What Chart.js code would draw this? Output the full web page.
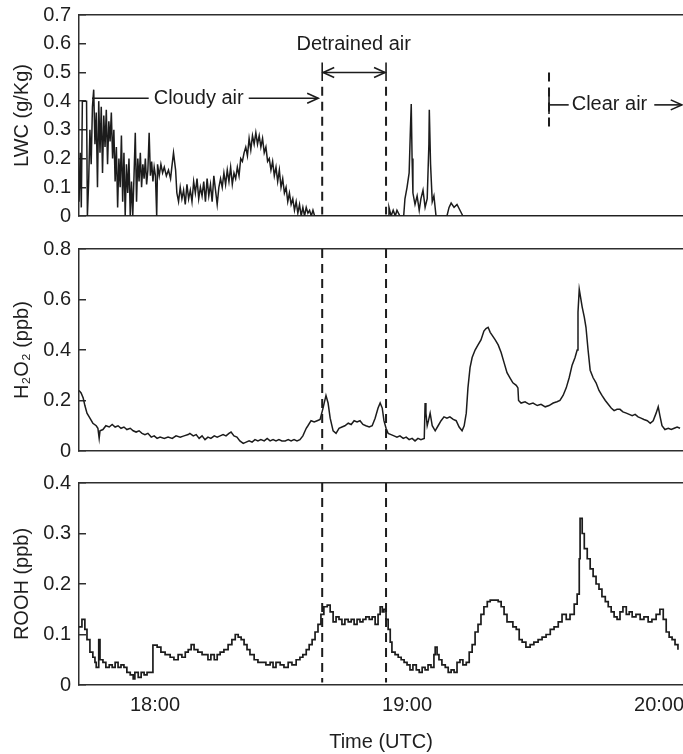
<!DOCTYPE html>
<html>
<head>
<meta charset="utf-8">
<script src="https://cdn.jsdelivr.net/npm/chart.js@4.4.1/dist/chart.umd.min.js"></script>
<style>
  html, body { margin: 0; padding: 0; background: #fff; }
  #wrap { position: relative; width: 683px; height: 754px; }
  #wrap canvas { position: absolute; left: 0; }
</style>
</head>
<body>
<div id="wrap">
  <canvas id="graficoLwc" width="683" height="232" style="top:0"></canvas>
  <canvas id="graficoH2o2" width="683" height="236" style="top:232px"></canvas>
  <canvas id="graficoRooh" width="683" height="286" style="top:468px"></canvas>
</div>
<script>
// time is in minutes after 17:00 UTC
const hourTicks = [60, 120, 180];
const timeMin = 41.9, timeMax = 185.7;

// liquid water content (g/Kg)
const lwcTime = [
  41.9, 42.2, 42.45, 42.7, 43.2, 43.7, 43.9, 44.2, 44.5, 44.8,
  45.1, 45.4, 45.7, 46.0, 46.3, 46.6, 46.9, 47.2, 47.5, 47.8,
  48.1, 48.4, 48.7, 49.0, 49.3, 49.6, 49.9, 50.2, 50.5, 50.8,
  51.1, 51.4, 51.7, 52.0, 52.3, 52.6, 52.9, 53.2, 53.5, 53.8,
  54.1, 54.4, 54.7, 55.0, 55.3, 55.6, 55.9, 56.2, 56.5, 56.8,
  57.1, 57.4, 57.7, 58.0, 58.3, 58.6, 58.9, 59.2, 59.5, 59.8,
  60.1, 60.4, 60.6, 61.0, 61.4, 61.8, 62.2, 62.7, 63.2, 63.7,
  64.0, 64.4, 64.9, 65.2, 65.6, 66.0, 66.4, 66.8, 67.2, 67.6,
  68.0, 68.4, 68.8, 69.2, 69.6, 70.0, 70.4, 70.8, 71.2, 71.6,
  72.0, 72.4, 72.8, 73.2, 73.6, 74.0, 74.4, 74.8, 75.2, 75.6,
  76.0, 76.4, 76.8, 77.2, 77.6, 78.0, 78.4, 78.8, 79.2, 79.6,
  80.0, 80.4, 80.8, 81.2, 81.6, 82.0, 82.4, 82.8, 83.2, 83.6,
  84.0, 84.4, 84.8, 85.2, 85.6, 86.0, 86.4, 86.8, 87.2, 87.6,
  88.0, 88.4, 88.8, 89.2, 89.6, 90.0, 90.4, 90.8, 91.2, 91.6,
  92.0, 92.4, 92.8, 93.2, 93.6, 94.0, 94.4, 94.8, 95.2, 95.6,
  96.0, 96.4, 96.8, 97.2, 97.6, 98.0, 115.5, 115.7, 116.2, 116.7,
  117.2, 117.6, 118.3, 119.2, 119.5, 120.0, 120.5, 120.8, 121.0, 121.2,
  121.4, 121.9, 122.4, 122.9, 123.3, 123.8, 124.3, 124.8, 125.2, 125.3,
  125.6, 126.0, 126.4, 126.9, 129.5, 130.0, 130.5, 131.2, 131.9, 132.6,
  133.3, 185.7
];
const lwcValue = [
  0.05, 0.22, 0.03, 0.40, 0.40, 0.40, 0.0, 0.12, 0.30, 0.18,
  0.38, 0.44, 0.25, 0.36, 0.10, 0.40, 0.22, 0.38, 0.15, 0.35,
  0.24, 0.37, 0.18, 0.33, 0.26, 0.36, 0.20, 0.30, 0.12, 0.24,
  0.03, 0.20, 0.10, 0.28, 0.05, 0.22, 0.0, 0.18, 0.08, 0.20,
  0.0, 0.12, 0.0, 0.14, 0.29, 0.05, 0.20, 0.12, 0.22, 0.10,
  0.18, 0.13, 0.20, 0.11, 0.16, 0.29, 0.14, 0.19, 0.12, 0.17,
  0.14, 0.0, 0.18, 0.14, 0.18, 0.15, 0.17, 0.14, 0.16, 0.13,
  0.17, 0.22, 0.16, 0.08, 0.05, 0.10, 0.06, 0.09, 0.04, 0.11,
  0.06, 0.09, 0.05, 0.12, 0.08, 0.13, 0.06, 0.10, 0.07, 0.12,
  0.05, 0.13, 0.07, 0.11, 0.05, 0.14, 0.09, 0.04, 0.10, 0.13,
  0.10, 0.15, 0.11, 0.16, 0.12, 0.17, 0.11, 0.15, 0.13, 0.17,
  0.14, 0.20, 0.19, 0.22, 0.24, 0.21, 0.27, 0.23, 0.28, 0.25,
  0.29, 0.25, 0.28, 0.24, 0.27, 0.22, 0.24, 0.19, 0.20, 0.16,
  0.19, 0.14, 0.17, 0.12, 0.16, 0.10, 0.13, 0.08, 0.10, 0.05,
  0.08, 0.04, 0.06, 0.02, 0.05, 0.01, 0.04, 0.0, 0.03, 0.0,
  0.03, 0.01, 0.02, 0.0, 0.02, 0.0, 0.0, 0.03, 0.0, 0.02,
  0.0, 0.02, 0.0, 0.0, 0.06, 0.10, 0.15, 0.30, 0.39, 0.20,
  0.08, 0.04, 0.07, 0.02, 0.06, 0.09, 0.03, 0.06, 0.25, 0.37,
  0.18, 0.05, 0.07, 0.0, 0.0, 0.03, 0.045, 0.03, 0.04, 0.02,
  0.0, 0.0
];

// H2O2 (ppb)
const h2o2Time = [
  41.9, 42.4, 42.9, 43.3, 43.8, 44.5, 45.2, 46.0, 46.4, 46.7,
  46.9, 47.6, 48.3, 49.1, 49.8, 50.5, 51.2, 51.9, 52.6, 53.3,
  54.1, 54.8, 55.5, 56.2, 56.9, 57.6, 58.3, 59.1, 59.8, 60.5,
  61.2, 62.2, 63.1, 64.1, 65.0, 66.0, 66.9, 67.9, 68.3, 69.1,
  69.8, 70.5, 71.2, 71.9, 72.6, 73.3, 74.1, 74.8, 75.5, 76.2,
  76.9, 77.6, 78.1, 78.8, 79.5, 80.2, 81.0, 81.7, 82.4, 83.1,
  83.8, 84.5, 85.2, 86.0, 86.7, 87.4, 88.1, 88.8, 89.5, 90.2,
  91.0, 91.7, 92.4, 93.1, 93.8, 94.5, 95.2, 96.0, 96.4, 97.15,
  97.9, 98.6, 99.3, 100.0, 100.7, 101.2, 101.7, 102.4, 103.1, 103.8,
  104.5, 105.2, 106.0, 106.7, 107.4, 108.1, 108.8, 109.5, 110.2, 111.0,
  111.7, 112.4, 113.1, 113.6, 114.1, 114.5, 115.0, 115.5, 116.2, 116.9,
  117.6, 118.3, 119.1, 119.8, 120.5, 121.2, 121.9, 122.6, 123.3, 124.1,
  124.3, 124.5, 124.8, 125.1, 125.5, 126.0, 126.7, 127.4, 128.1, 128.8,
  129.5, 130.2, 131.0, 131.7, 132.4, 133.1, 133.6, 134.1, 134.5, 135.0,
  135.5, 136.2, 136.9, 137.6, 138.3, 138.8, 139.3, 139.8, 140.2, 141.0,
  141.7, 142.4, 143.1, 143.8, 144.5, 145.2, 146.0, 146.4, 146.55, 147.15,
  148.1, 149.1, 150.0, 151.0, 151.9, 152.9, 153.8, 154.8, 155.7, 156.4,
  157.15, 157.9, 158.6, 159.3, 160.0, 160.5, 160.7, 161.0, 161.3, 161.7,
  162.2, 162.6, 163.1, 163.6, 164.3, 165.0, 165.7, 166.4, 167.2, 167.9,
  168.6, 169.3, 170.0, 170.7, 171.4, 172.2, 172.9, 173.6, 174.3, 175.0,
  175.7, 176.4, 177.2, 177.9, 178.6, 179.3, 179.8, 180.2, 180.7, 181.4,
  182.2, 182.9, 183.6, 184.3, 185.0
];
const h2o2Value = [
  0.24, 0.23, 0.21, 0.18, 0.15, 0.13, 0.11, 0.10, 0.09, 0.05,
  0.08, 0.085, 0.10, 0.095, 0.105, 0.095, 0.10, 0.09, 0.095, 0.085,
  0.09, 0.08, 0.075, 0.08, 0.07, 0.065, 0.07, 0.055, 0.06, 0.05,
  0.055, 0.05, 0.055, 0.05, 0.06, 0.055, 0.06, 0.065, 0.07, 0.06,
  0.065, 0.05, 0.06, 0.045, 0.055, 0.05, 0.06, 0.055, 0.06, 0.065,
  0.06, 0.07, 0.075, 0.06, 0.055, 0.04, 0.03, 0.035, 0.04, 0.035,
  0.045, 0.04, 0.045, 0.04, 0.05, 0.04, 0.045, 0.04, 0.045, 0.04,
  0.04, 0.045, 0.04, 0.045, 0.04, 0.045, 0.06, 0.09, 0.10, 0.12,
  0.115, 0.12, 0.125, 0.17, 0.22, 0.19, 0.13, 0.08, 0.07, 0.09,
  0.095, 0.10, 0.11, 0.105, 0.12, 0.115, 0.12, 0.105, 0.10, 0.095,
  0.10, 0.13, 0.17, 0.19, 0.17, 0.12, 0.09, 0.07, 0.065, 0.06,
  0.055, 0.06, 0.05, 0.055, 0.045, 0.05, 0.04, 0.05, 0.045, 0.05,
  0.19, 0.15, 0.10, 0.12, 0.15, 0.10, 0.08, 0.10, 0.12, 0.135,
  0.13, 0.135, 0.125, 0.12, 0.095, 0.08, 0.10, 0.15, 0.25, 0.33,
  0.37, 0.40, 0.42, 0.44, 0.475, 0.485, 0.49, 0.47, 0.46, 0.44,
  0.42, 0.39, 0.35, 0.31, 0.29, 0.27, 0.26, 0.25, 0.20, 0.19,
  0.195, 0.185, 0.19, 0.18, 0.185, 0.175, 0.18, 0.19, 0.195, 0.20,
  0.22, 0.25, 0.29, 0.34, 0.37, 0.40, 0.55, 0.64, 0.61, 0.57,
  0.53, 0.49, 0.40, 0.32, 0.29, 0.27, 0.24, 0.22, 0.20, 0.185,
  0.17, 0.16, 0.165, 0.165, 0.155, 0.15, 0.145, 0.14, 0.145, 0.135,
  0.13, 0.125, 0.12, 0.11, 0.12, 0.15, 0.175, 0.14, 0.10, 0.085,
  0.09, 0.085, 0.09, 0.095, 0.09
];

// ROOH (ppb)
const roohTime = [
  41.9, 42.6, 43.3, 43.8, 44.5, 45.2, 45.7, 46.0, 46.6, 46.9,
  47.6, 48.3, 49.1, 49.8, 50.5, 51.2, 51.9, 52.6, 53.3, 54.1,
  54.8, 55.2, 56.0, 56.7, 57.4, 58.1, 58.8, 59.5, 60.5, 61.4,
  62.4, 63.6, 64.5, 65.5, 66.4, 67.2, 67.9, 68.6, 69.3, 70.2,
  71.2, 71.9, 72.6, 73.3, 74.1, 74.8, 75.5, 76.4, 77.4, 78.3,
  79.1, 79.8, 80.5, 81.2, 81.9, 82.6, 83.6, 84.5, 85.5, 86.4,
  87.4, 88.1, 88.8, 89.8, 90.7, 91.7, 92.6, 93.6, 94.5, 95.2,
  96.0, 96.7, 97.4, 98.1, 98.8, 99.5, 100.2, 101.0, 101.7, 102.4,
  103.1, 103.8, 104.5, 105.2, 106.0, 106.7, 107.4, 108.1, 108.8, 109.5,
  110.2, 111.0, 111.7, 112.4, 113.1, 113.6, 114.1, 114.5, 115.0, 115.5,
  116.0, 116.4, 117.15, 117.9, 118.6, 119.3, 120.0, 120.7, 121.4, 122.2,
  122.9, 123.6, 124.3, 125.0, 125.7, 126.4, 126.7, 127.15, 127.6, 128.3,
  129.1, 129.8, 130.5, 131.2, 131.9, 132.6, 133.3, 134.1, 134.8, 135.5,
  136.2, 136.9, 137.6, 138.3, 139.1, 139.8, 140.7, 141.7, 142.4, 143.1,
  143.8, 144.5, 145.2, 146.0, 146.7, 147.4, 148.3, 149.3, 150.2, 151.2,
  152.15, 153.1, 154.1, 155.0, 156.0, 156.9, 157.9, 158.8, 159.8, 160.5,
  161.0, 161.2, 161.7, 162.2, 162.9, 163.6, 164.3, 165.0, 165.7, 166.4,
  167.2, 167.9, 168.6, 169.3, 170.0, 170.7, 171.4, 172.2, 172.9, 173.6,
  174.5, 175.5, 176.4, 177.4, 178.3, 179.3, 180.2, 181.0, 181.7, 182.4,
  183.1, 183.8, 184.5
];
const roohValue = [
  0.115, 0.13, 0.11, 0.09, 0.065, 0.055, 0.045, 0.035, 0.09, 0.05,
  0.045, 0.035, 0.04, 0.035, 0.045, 0.035, 0.04, 0.035, 0.025, 0.02,
  0.012, 0.025, 0.015, 0.025, 0.02, 0.025, 0.025, 0.079, 0.075, 0.065,
  0.06, 0.055, 0.05, 0.06, 0.055, 0.065, 0.07, 0.08, 0.07, 0.065,
  0.06, 0.06, 0.05, 0.06, 0.05, 0.06, 0.065, 0.07, 0.08, 0.09,
  0.10, 0.095, 0.09, 0.08, 0.07, 0.06, 0.05, 0.045, 0.045, 0.04,
  0.045, 0.035, 0.045, 0.04, 0.035, 0.045, 0.04, 0.05, 0.055, 0.06,
  0.07, 0.08, 0.09, 0.105, 0.12, 0.14, 0.155, 0.158, 0.145, 0.125,
  0.135, 0.13, 0.12, 0.13, 0.125, 0.13, 0.12, 0.13, 0.125, 0.13,
  0.135, 0.13, 0.135, 0.12, 0.14, 0.155, 0.145, 0.15, 0.13, 0.11,
  0.085, 0.065, 0.06, 0.055, 0.05, 0.045, 0.04, 0.03, 0.04, 0.03,
  0.025, 0.035, 0.03, 0.04, 0.035, 0.06, 0.075, 0.06, 0.05, 0.04,
  0.035, 0.025, 0.03, 0.025, 0.045, 0.05, 0.04, 0.045, 0.065, 0.08,
  0.105, 0.12, 0.14, 0.155, 0.165, 0.168, 0.168, 0.165, 0.155, 0.14,
  0.125, 0.125, 0.115, 0.11, 0.09, 0.085, 0.075, 0.08, 0.085, 0.09,
  0.095, 0.10, 0.11, 0.115, 0.125, 0.14, 0.13, 0.14, 0.16, 0.18,
  0.25, 0.33, 0.30, 0.27, 0.25, 0.23, 0.215, 0.20, 0.19, 0.175,
  0.165, 0.155, 0.145, 0.135, 0.13, 0.145, 0.155, 0.14, 0.145, 0.135,
  0.14, 0.13, 0.135, 0.125, 0.13, 0.14, 0.15, 0.13, 0.105, 0.095,
  0.09, 0.08, 0.07
];

// detrained-air boundaries and start of clear air (minutes after 17:00)
const detrainStart = 99.8, detrainEnd = 115.0, clearStart = 153.8;

const inkColor = '#1c1c1c';
const axisColor = '#2e2e2e';
const fontFamily = "'Liberation Sans', Arial, Helvetica, sans-serif";

Chart.defaults.font.family = fontFamily;
Chart.defaults.font.size = 20;
Chart.defaults.color = '#1e1e1e';

const toPoints = (xs, ys) => xs.map((x, i) => ({ x: x, y: ys[i] }));

function drawLine(ctx, x1, y1, x2, y2) {
    ctx.beginPath();
    ctx.moveTo(x1, y1);
    ctx.lineTo(x2, y2);
    ctx.stroke();
}

// open arrow head, dir = 1 points right, -1 points left
function drawHead(ctx, x, y, dir) {
    ctx.beginPath();
    ctx.moveTo(x - dir * 11, y - 5);
    ctx.lineTo(x, y);
    ctx.lineTo(x - dir * 11, y + 5);
    ctx.stroke();
}

// labels of the top panel: cloudy / detrained / clear air
const airLabels = {
    id: 'airLabels',
    afterDatasetsDraw(chart) {
        const { ctx } = chart;
        const X = v => chart.scales.x.getPixelForValue(v);
        const Y = v => chart.scales.y.getPixelForValue(v);
        ctx.save();
        ctx.strokeStyle = inkColor;
        ctx.fillStyle = inkColor;
        ctx.lineWidth = 1.6;
        ctx.font = '20px ' + fontFamily;
        ctx.textBaseline = 'middle';

        // Cloudy air ---->
        const cy = Y(0.41);
        const cx = X(70.4);
        const cw = ctx.measureText('Cloudy air').width;
        ctx.textAlign = 'center';
        ctx.fillText('Cloudy air', cx, cy);
        drawLine(ctx, X(45.0), cy, cx - cw / 2 - 5, cy);
        drawLine(ctx, cx + cw / 2 + 5, cy, X(detrainStart) - 4, cy);
        drawHead(ctx, X(detrainStart) - 4, cy, 1);

        // Detrained air |<-->|
        ctx.fillText('Detrained air', X(107.3), Y(0.596));
        const dy = Y(0.50);
        const x1 = X(detrainStart) + 1, x2 = X(detrainEnd) - 1;
        drawLine(ctx, x1, dy, x2, dy);
        drawHead(ctx, x1, dy, -1);
        drawHead(ctx, x2, dy, 1);
        drawLine(ctx, X(detrainStart), Y(0.535), X(detrainStart), Y(0.47));
        drawLine(ctx, X(detrainEnd), Y(0.535), X(detrainEnd), Y(0.47));

        // |-Clear air ->
        const ky = Y(0.387);
        const kx = X(clearStart);
        drawLine(ctx, kx, Y(0.42), kx, Y(0.355));
        ctx.textAlign = 'left';
        const tx = X(159.2);
        const tw = ctx.measureText('Clear air').width;
        drawLine(ctx, kx, ky, tx - 3, ky);
        ctx.fillText('Clear air', tx, ky);
        drawLine(ctx, tx + tw + 7, ky, X(185.4), ky);
        drawHead(ctx, X(185.4), ky, 1);
        ctx.restore();
    }
};

function dashedSegment(x, from, to) {
    return {
        data: [{ x: x, y: from }, { x: x, y: to }],
        borderColor: inkColor,
        borderWidth: 2,
        borderDash: [9, 6],
        pointRadius: 0
    };
}

function buildPanel(id, cfg) {
    const datasets = [{
        data: toPoints(cfg.time, cfg.values),
        borderColor: inkColor,
        borderWidth: cfg.lineWidth || 1.5,
        pointRadius: 0,
        stepped: cfg.stepped || false,
        tension: 0
    }].concat(cfg.dashed);

    return new Chart(document.getElementById(id), {
        type: 'line',
        data: { datasets: datasets },
        options: {
            responsive: false,
            animation: false,
            layout: { padding: { top: cfg.padTop, bottom: cfg.padBottom, left: 0, right: 0 } },
            plugins: { legend: { display: false }, tooltip: { enabled: false } },
            scales: {
                x: {
                    type: 'linear',
                    min: timeMin,
                    max: timeMax,
                    afterBuildTicks: s => { s.ticks = hourTicks.map(v => ({ value: v })); },
                    ticks: {
                        display: cfg.showTime,
                        autoSkip: false,
                        maxRotation: 0,
                        padding: 8,
                        callback: v => (17 + v / 60) + ':00'
                    },
                    grid: { drawOnChartArea: false, drawTicks: false },
                    border: { display: true, color: axisColor, width: 1.5 },
                    title: { display: cfg.showTime, text: 'Time (UTC)', padding: { top: 0, bottom: 0 } },
                    afterFit: s => { s.height = cfg.xHeight; s.paddingLeft = 0; s.paddingRight = 0; }
                },
                xTop: {
                    type: 'linear',
                    position: 'top',
                    min: timeMin,
                    max: timeMax,
                    ticks: { display: false },
                    grid: { drawOnChartArea: false, drawTicks: false },
                    border: { display: true, color: axisColor, width: 1.5 },
                    afterFit: s => { s.height = 0; }
                },
                y: {
                    min: 0,
                    max: cfg.yMax,
                    ticks: { stepSize: cfg.yStep, padding: 15 },
                    grid: { drawOnChartArea: false, drawTicks: true, tickLength: -7, color: axisColor, lineWidth: 1.5 },
                    border: { display: true, color: axisColor, width: 1.5 },
                    title: { display: true, text: cfg.yTitle, padding: { top: 10, bottom: 0 } },
                    // fixed width; the layout paddings below place the plot box
                    afterFit: s => { s.width = 79; s.paddingTop = 0; s.paddingBottom = 0; }
                }
            }
        },
        plugins: cfg.plugins || []
    });
}

document.addEventListener('DOMContentLoaded', () => {
    buildPanel('graficoLwc', {
        time: lwcTime, values: lwcValue,
        yMax: 0.7, yStep: 0.1, yTitle: 'LWC (g/Kg)',
        padTop: 15, padBottom: 16, xHeight: 0, showTime: false,
        dashed: [
            dashedSegment(detrainStart, 0.45, 0.005),
            dashedSegment(detrainEnd, 0.45, 0.005),
            dashedSegment(clearStart, 0.50, 0.30)
        ],
        plugins: [airLabels]
    });

    buildPanel('graficoH2o2', {
        time: h2o2Time, values: h2o2Value,
        yMax: 0.8, yStep: 0.2, yTitle: 'H\u2082O\u2082 (ppb)',
        padTop: 17, padBottom: 17, xHeight: 0, showTime: false,
        dashed: [dashedSegment(detrainStart, 0.8, 0.005), dashedSegment(detrainEnd, 0.8, 0.005)]
    });

    buildPanel('graficoRooh', {
        time: roohTime, values: roohValue, stepped: true, lineWidth: 1.7,
        yMax: 0.4, yStep: 0.1, yTitle: 'ROOH (ppb)',
        padTop: 15, padBottom: 0, xHeight: 69, showTime: true,
        dashed: [dashedSegment(detrainStart, 0.4, 0.005), dashedSegment(detrainEnd, 0.4, 0.005)]
    });
});
</script>
</body>
</html>
